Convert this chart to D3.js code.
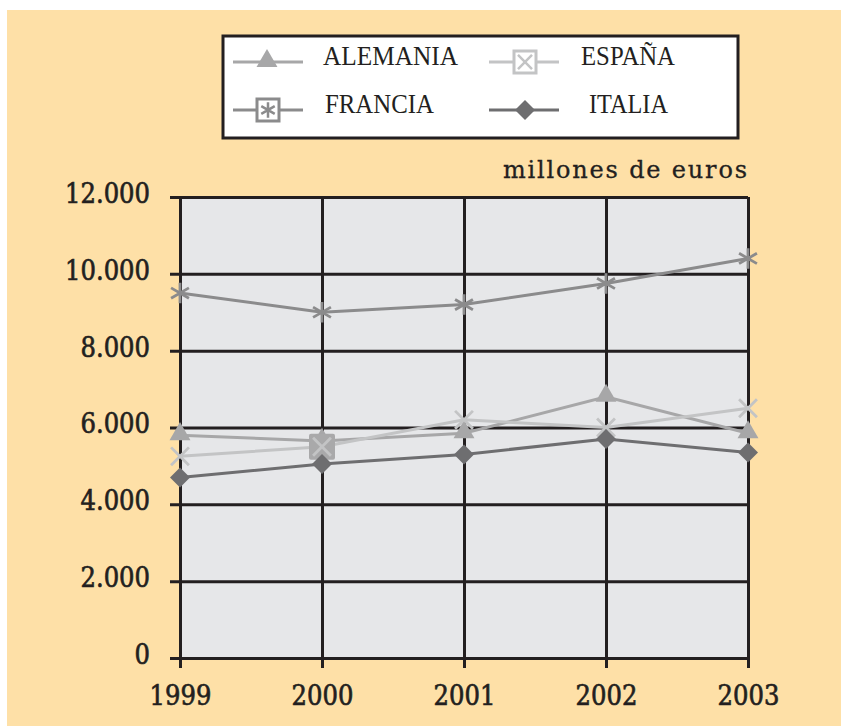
<!DOCTYPE html>
<html>
<head>
<meta charset="utf-8">
<script src="https://cdn.jsdelivr.net/npm/d3@7"></script>
<style>
  body { margin: 0; background: #fff; }
  svg { display: block; }
  text { fill: #231f20; }
</style>
</head>
<body>
<div id="chart"></div>
<script>
// data
const years = ["1999", "2000", "2001", "2002", "2003"];
const alemania = [5800, 5650, 5850, 6800, 5850];
const espana = [5250, 5500, 6200, 6000, 6500];
const francia = [9500, 9000, 9200, 9750, 10400];
const italia = [4700, 5050, 5300, 5700, 5350];
const yTicks = [0, 2000, 4000, 6000, 8000, 10000, 12000];
const unitLabel = "millones de euros";

const W = 841, H = 726;
const PLOT = { LEFT: 180, RIGHT: 748, TOP: 197, BOTTOM: 658 };

const svg = d3.select("#chart").append("svg")
  .attr("width", W).attr("height", H);

// peach background
svg.append("rect")
  .attr("x", 7).attr("y", 10)
  .attr("width", W - 7).attr("height", H - 10)
  .attr("fill", "#fee0a7");

const x = d3.scalePoint().domain(years).range([PLOT.LEFT, PLOT.RIGHT]);
const y = d3.scaleLinear().domain([0, 12000]).range([PLOT.BOTTOM, PLOT.TOP]);

const fmt = d3.formatLocale({ decimal: ",", thousands: ".", grouping: [3], currency: ["", "€"] }).format(",");

// plot background
svg.append("rect")
  .attr("x", PLOT.LEFT).attr("y", PLOT.TOP)
  .attr("width", PLOT.RIGHT - PLOT.LEFT).attr("height", PLOT.BOTTOM - PLOT.TOP)
  .attr("fill", "#e6e7e9");

const tickFont = "'DejaVu Serif', 'Liberation Serif', serif";

function styleTicks(sel) {
  sel.style("font-family", tickFont)
    .style("font-stretch", "condensed")
    .style("font-size", "27px")
    .attr("fill", "#231f20")
    .attr("stroke", "#231f20")
    .attr("stroke-width", 0.6);
}

// y axis + horizontal grid
const yAxis = d3.axisLeft(y)
  .tickValues(yTicks)
  .tickSize(-(PLOT.RIGHT - PLOT.LEFT + 10))
  .tickPadding(20)
  .tickFormat(fmt);
const yg = svg.append("g")
  .attr("transform", "translate(" + (PLOT.LEFT - 10) + ",0)")
  .call(yAxis);
yg.select(".domain").remove();
yg.selectAll("line").attr("stroke", "#231f20").attr("stroke-width", 3);
yg.selectAll("text").attr("dy", "0.2em").call(styleTicks);

// x axis + vertical grid
const xAxis = d3.axisBottom(x)
  .tickSize(PLOT.BOTTOM - PLOT.TOP + 10)
  .tickPadding(18);
const xg = svg.append("g")
  .attr("transform", "translate(0," + PLOT.TOP + ")")
  .call(xAxis);
xg.select(".domain").remove();
xg.selectAll("line").attr("stroke", "#231f20").attr("stroke-width", 3);
xg.selectAll("text").call(styleTicks);

// unit label
svg.append("text")
  .attr("x", PLOT.RIGHT - 1).attr("y", 178)
  .attr("text-anchor", "end")
  .attr("textLength", 244)
  .attr("lengthAdjust", "spacing")
  .style("font-family", "'DejaVu Serif', serif")
  .style("font-size", "24px")
  .attr("stroke", "#231f20").attr("stroke-width", 0.3)
  .text(unitLabel);

const series = [
  { name: "ALEMANIA", values: alemania, color: "#a7a7a8", marker: "triangle" },
  { name: "ESPAÑA", values: espana, color: "#c3c4c5", marker: "times" },
  { name: "FRANCIA", values: francia, color: "#8b8b8c", marker: "asterisk" },
  { name: "ITALIA", values: italia, color: "#6e6e70", marker: "diamond" }
];

const line = d3.line()
  .x((d, i) => x(years[i]))
  .y(d => y(d));

svg.append("g").selectAll("path")
  .data(series)
  .enter().append("path")
  .attr("d", d => line(d.values))
  .attr("fill", "none")
  .attr("stroke", d => d.color)
  .attr("stroke-width", 3);

function drawMarker(g, type, color) {
  if (type === "triangle") {
    g.append("path").attr("d", d3.symbol(d3.symbolTriangle, 190)())
      .attr("transform", "translate(0,-1)")
      .attr("fill", color);
  } else if (type === "diamond") {
    g.append("path").attr("d", d3.symbol(d3.symbolSquare, 200)())
      .attr("transform", "rotate(45)")
      .attr("fill", color);
  } else if (type === "times") {
    g.append("path").attr("d", d3.symbol(d3.symbolTimes, 210)())
      .attr("fill", "none").attr("stroke", color).attr("stroke-width", 2.8);
  } else if (type === "asterisk") {
    g.append("path").attr("d", d3.symbol(d3.symbolAsterisk, 300)())
      .attr("fill", "none").attr("stroke", color).attr("stroke-width", 2.8);
  }
}

// markers
const markerOrder = [series[2], series[0], series[1], series[3]];
markerOrder.forEach(s => {
  s.values.forEach((v, i) => {
    const g = svg.append("g")
      .attr("transform", "translate(" + x(years[i]) + "," + y(v) + ")");
    if (s.name === "ESPAÑA" && years[i] === "2000") {
      // boxed marker at 2000
      g.append("rect")
        .attr("x", -13).attr("y", -13).attr("width", 26).attr("height", 26)
        .attr("rx", 2)
        .attr("fill", "#a9a9aa");
      drawMarker(g, "times", "#c3c4c5");
    } else {
      drawMarker(g, s.marker, s.color);
    }
  });
});

// legend
const legend = svg.append("g");
legend.append("rect")
  .attr("x", 223).attr("y", 36)
  .attr("width", 515).attr("height", 102)
  .attr("fill", "#fff")
  .attr("stroke", "#231f20").attr("stroke-width", 3);

const legendPos = [
  { lx: 233, ly: 62, mx: 267, tx: 323, tw: 135 },
  { lx: 489, ly: 62, mx: 525, tx: 581, tw: 94 },
  { lx: 233, ly: 110, mx: 268, tx: 325, tw: 109 },
  { lx: 489, ly: 110, mx: 525, tx: 589, tw: 79 }
];
series.forEach((s, i) => {
  const p = legendPos[i];
  legend.append("line")
    .attr("x1", p.lx).attr("x2", p.lx + 70)
    .attr("y1", p.ly).attr("y2", p.ly)
    .attr("stroke", s.color).attr("stroke-width", 3);
  const g = legend.append("g")
    .attr("transform", "translate(" + p.mx + "," + p.ly + ")");
  if (s.marker === "times" || s.marker === "asterisk") {
    g.append("rect")
      .attr("x", -11).attr("y", -11).attr("width", 22).attr("height", 22)
      .attr("fill", "#fff")
      .attr("stroke", s.color).attr("stroke-width", 3);
    g.append("path")
      .attr("d", d3.symbol(s.marker === "times" ? d3.symbolTimes : d3.symbolAsterisk, s.marker === "times" ? 130 : 170)())
      .attr("fill", "none").attr("stroke", s.color).attr("stroke-width", 2.5);
  } else {
    drawMarker(g, s.marker, s.color);
  }
  legend.append("text")
    .attr("x", p.tx).attr("y", p.ly + 3)
    .attr("textLength", p.tw)
    .attr("lengthAdjust", "spacingAndGlyphs")
    .style("font-family", "'Liberation Serif', serif")
    .style("font-size", "28px")
    .text(s.name);
});
</script>
</body>
</html>
